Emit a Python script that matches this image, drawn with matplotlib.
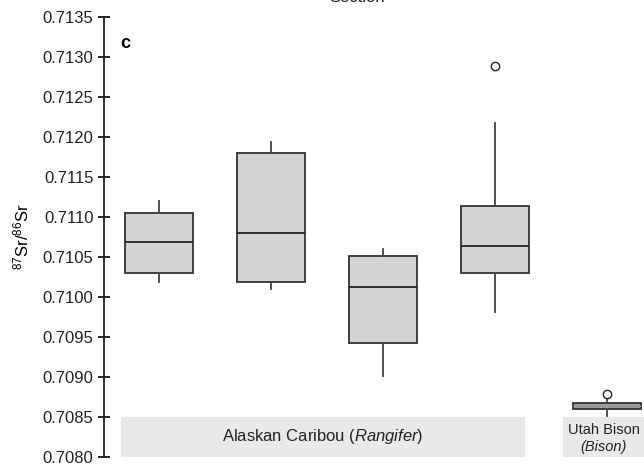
import matplotlib
matplotlib.use("Agg")
import matplotlib.pyplot as plt
from matplotlib.patches import Rectangle

plt.rcParams['font.family'] = ['Liberation Sans', 'DejaVu Sans']
plt.rcParams['mathtext.fontset'] = 'custom'
plt.rcParams['mathtext.rm'] = 'Liberation Sans'
plt.rcParams['mathtext.it'] = 'Liberation Sans:italic'

# box statistics (87Sr/86Sr)
groups = ['Caribou 1', 'Caribou 2', 'Caribou 3', 'Caribou 4', 'Utah Bison']
whislo = [0.71019, 0.71010, 0.70901, 0.70981, 0.70851]
q1 = [0.71030, 0.71019, 0.70943, 0.71030, 0.70860]
med = [0.71069, 0.71080, 0.71013, 0.71064, 0.70864]
q3 = [0.71105, 0.71180, 0.71051, 0.71114, 0.70868]
whishi = [0.71120, 0.71194, 0.71060, 0.71218, 0.70875]
fliers = [[], [], [], [0.71289], [0.70879]]

yticks = [0.7080, 0.7085, 0.7090, 0.7095, 0.7100, 0.7105, 0.7110,
          0.7115, 0.7120, 0.7125, 0.7130, 0.7135]

fig = plt.figure(figsize=(6.44, 4.66), dpi=100)
ax = fig.add_axes([104/644, 9/466, 540/644, 440/466])

stats = []
for i in range(len(groups)):
    stats.append({'label': groups[i], 'whislo': whislo[i], 'q1': q1[i],
                  'med': med[i], 'q3': q3[i], 'whishi': whishi[i],
                  'fliers': fliers[i]})

bp = ax.bxp(stats, positions=range(1, 6), widths=0.61, patch_artist=True,
            showcaps=False,
            boxprops=dict(facecolor='#d3d4d6', edgecolor='#333333', linewidth=1.3),
            medianprops=dict(color='#222222', linewidth=1.3),
            whiskerprops=dict(color='#444444', linewidth=1.3),
            flierprops=dict(marker='o', markerfacecolor='white',
                            markeredgecolor='#222222', markersize=6,
                            markeredgewidth=1.0))
# bison box is darker and too thin to show its median
bp['boxes'][4].set_facecolor('#9a9b9d')
bp['medians'][4].set_color('#9a9b9d')
bp['medians'][4].set_linewidth(0.8)

# grey label bands along the bottom
ax.add_patch(Rectangle((0.66, 0.7080), 3.61, 0.0005, facecolor='#e8e9eb',
                       edgecolor='none', zorder=0, clip_on=False))
ax.add_patch(Rectangle((4.607, 0.7080), 0.72, 0.0005, facecolor='#e8e9eb',
                       edgecolor='none', zorder=0, clip_on=False))
ax.text(2.46, 0.70826, 'Alaskan Caribou $\\it{(Rangifer)}$', ha='center',
        va='center', fontsize=12, color='#222222')
ax.text(4.97, 0.70834, 'Utah Bison', ha='center', va='center',
        fontsize=10.5, color='#222222')
ax.text(4.97, 0.70813, '(Bison)', ha='center', va='center',
        fontsize=10.5, style='italic', color='#222222')

ax.set_xlim(0.509, 5.33)
ax.set_ylim(0.7080, 0.7135)
ax.set_yticks(yticks)
ax.set_yticklabels(['%.4f' % t for t in yticks], fontsize=12, color='#222222')
ax.tick_params(axis='y', direction='inout', length=9, width=1.2, pad=3)
ax.set_xticks([])
for s in ['top', 'right', 'bottom']:
    ax.spines[s].set_visible(False)
ax.spines['left'].set_linewidth(1.3)
ax.spines['left'].set_color('#222222')

ax.set_ylabel('$^{87}$Sr/$^{86}$Sr', fontsize=12, labelpad=8)
ax.text(120/644, 1 - 43/466, 'c', transform=fig.transFigure, fontsize=13,
        fontweight='bold', va='center', ha='left')
fig.text(357/644, 1 - 2/466, 'Section', ha='center', va='baseline',
         fontsize=12, color='#222222')

fig.savefig('out.png', dpi=100)
